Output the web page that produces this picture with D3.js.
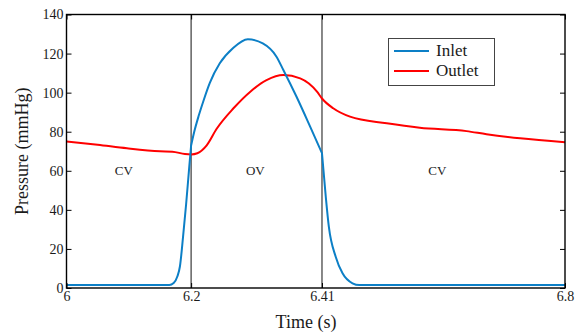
<!DOCTYPE html>
<html>
<head>
<meta charset="utf-8">
<script src="https://cdn.jsdelivr.net/npm/d3@7"></script>
<style>
  html, body { margin: 0; padding: 0; background: #fff; }
  svg { display: block; }
  svg text { font-family: "Liberation Serif", "DejaVu Serif", "Times New Roman", serif; }
</style>
</head>
<body>
<svg id="chart" width="580" height="333"></svg>
<script>
// ---- Data ----
const inletTime = [6.0, 6.1, 6.165, 6.172, 6.178, 6.182, 6.187, 6.192, 6.197, 6.2, 6.205, 6.212, 6.22, 6.23, 6.246, 6.267, 6.291, 6.315, 6.337, 6.348, 6.369, 6.391, 6.41, 6.416, 6.421, 6.432, 6.443, 6.459, 6.47, 6.6, 6.8];
const inletPressure = [1.5, 1.5, 1.5, 2.5, 6, 11, 26, 43, 62, 73, 80, 88, 96, 105, 115, 122.7, 127.3, 125.2, 118.4, 111.6, 98, 82.6, 69, 47, 31.4, 16, 7.5, 2.4, 1.5, 1.5, 1.5];
const outletTime = [6.0, 6.05, 6.097, 6.15, 6.17, 6.19, 6.2, 6.21, 6.225, 6.241, 6.268, 6.295, 6.321, 6.348, 6.375, 6.402, 6.41, 6.428, 6.455, 6.514, 6.567, 6.642, 6.674, 6.728, 6.8];
const outletPressure = [75, 73.3, 71.5, 70, 69.8, 68.6, 68.4, 69, 73, 81.5, 92, 100.5, 106.4, 109, 107.3, 100.5, 97, 92, 87.7, 84.3, 82, 80.3, 78.7, 76.6, 74.6];
const xTicks = [6, 6.2, 6.41, 6.8];
const yTicks = [0, 20, 40, 60, 80, 100, 120, 140];
const valveTimes = [6.2, 6.41];
const phaseLabels = ["CV", "OV", "CV"];
const phaseTimes = [6.092, 6.303, 6.595];
const phaseValue = 58;
const seriesNames = ["Inlet", "Outlet"];
const seriesColors = ["#0c7fc6", "#ff0000"];

// ---- Layout ----
const svg = d3.select("#chart");
const mL = 66.5, mR = 565, mT = 14.5, mB = 288;
const x = d3.scaleLinear().domain([6, 6.8]).range([mL, mR]);
const y = d3.scaleLinear().domain([0, 140]).range([mB, mT]);
const FONT = "Liberation Serif, DejaVu Serif, serif";

// valve lines
svg.selectAll("line.valve").data(valveTimes).enter().append("line")
  .attr("class", "valve")
  .attr("x1", d => x(d)).attr("x2", d => x(d))
  .attr("y1", y(140)).attr("y2", y(0))
  .attr("stroke", "#555").attr("stroke-width", 1.4);

// phase labels
svg.selectAll("text.phase").data(phaseLabels).enter().append("text")
  .attr("class", "phase")
  .attr("x", (d, i) => x(phaseTimes[i]))
  .attr("y", y(phaseValue))
  .attr("text-anchor", "middle")
  .attr("font-size", 13)
  .attr("fill", "#222")
  .text(d => d);

// lines: piecewise smooth, with kinks at the valve events
const line = d3.line().curve(d3.curveMonotoneX);
function segmentedPath(ts, vs, breaks) {
  const pts = ts.map((t, i) => [t, vs[i]]);
  const edges = [ts[0], ...breaks, ts[ts.length - 1]];
  let d = "";
  for (let k = 0; k < edges.length - 1; k++) {
    const seg = pts.filter(p => p[0] >= edges[k] && p[0] <= edges[k + 1]);
    let s = line(seg.map(p => [x(p[0]), y(p[1])]));
    if (k > 0) s = "L" + s.slice(1);
    d += s;
  }
  return d;
}
svg.append("path")
  .attr("d", line(outletTime.map((t, i) => [x(t), y(outletPressure[i])])))
  .attr("fill", "none").attr("stroke", seriesColors[1]).attr("stroke-width", 2);
svg.append("path")
  .attr("d", segmentedPath(inletTime, inletPressure, valveTimes))
  .attr("fill", "none").attr("stroke", seriesColors[0]).attr("stroke-width", 2);

// axes
const axisStyle = g => {
  g.attr("font-family", FONT);
  g.select(".domain").remove();
  g.selectAll(".tick line").attr("stroke", "#000").attr("stroke-width", 1);
  g.selectAll(".tick text").attr("font-size", 14).attr("fill", "#1a1a1a");
};
svg.append("g").attr("transform", `translate(${mL},0)`)
  .call(d3.axisLeft(y).tickValues(yTicks).tickSize(-5).tickPadding(3).tickFormat(d3.format("d")))
  .call(axisStyle);
svg.append("g").attr("transform", `translate(${mR},0)`)
  .call(d3.axisRight(y).tickValues(yTicks).tickSize(-5).tickFormat(""))
  .call(axisStyle);
svg.append("g").attr("transform", `translate(0,${mB})`)
  .call(d3.axisBottom(x).tickValues(xTicks).tickSize(-5).tickPadding(3).tickFormat(d => String(d)))
  .call(axisStyle);
svg.append("g").attr("transform", `translate(0,${mT})`)
  .call(d3.axisTop(x).tickValues(xTicks).tickSize(-5).tickFormat(""))
  .call(axisStyle);

// frame
svg.append("rect")
  .attr("x", mL).attr("y", mT)
  .attr("width", mR - mL).attr("height", mB - mT)
  .attr("fill", "none").attr("stroke", "#000").attr("stroke-width", 1.4);

// axis titles
svg.append("text")
  .attr("x", 306).attr("y", 328)
  .attr("text-anchor", "middle")
  .attr("font-size", 18).attr("fill", "#1a1a1a")
  .text("Time (s)");
svg.append("text")
  .attr("transform", `translate(28,${(mT + mB) / 2}) rotate(-90)`)
  .attr("text-anchor", "middle")
  .attr("font-size", 18).attr("fill", "#1a1a1a")
  .text("Pressure (mmHg)");

// legend
const lg = svg.append("g");
lg.append("rect")
  .attr("x", 388.5).attr("y", 38.5).attr("width", 106).attr("height", 47)
  .attr("fill", "#fff").attr("stroke", "#444").attr("stroke-width", 1);
seriesNames.forEach((name, i) => {
  const yy = 51 + i * 20;
  lg.append("line")
    .attr("x1", 394).attr("x2", 429).attr("y1", yy).attr("y2", yy)
    .attr("stroke", seriesColors[i]).attr("stroke-width", 2);
  lg.append("text")
    .attr("x", 436).attr("y", yy + 5)
    .attr("font-size", 17).attr("fill", "#1a1a1a")
    .text(name);
});
</script>
</body>
</html>
